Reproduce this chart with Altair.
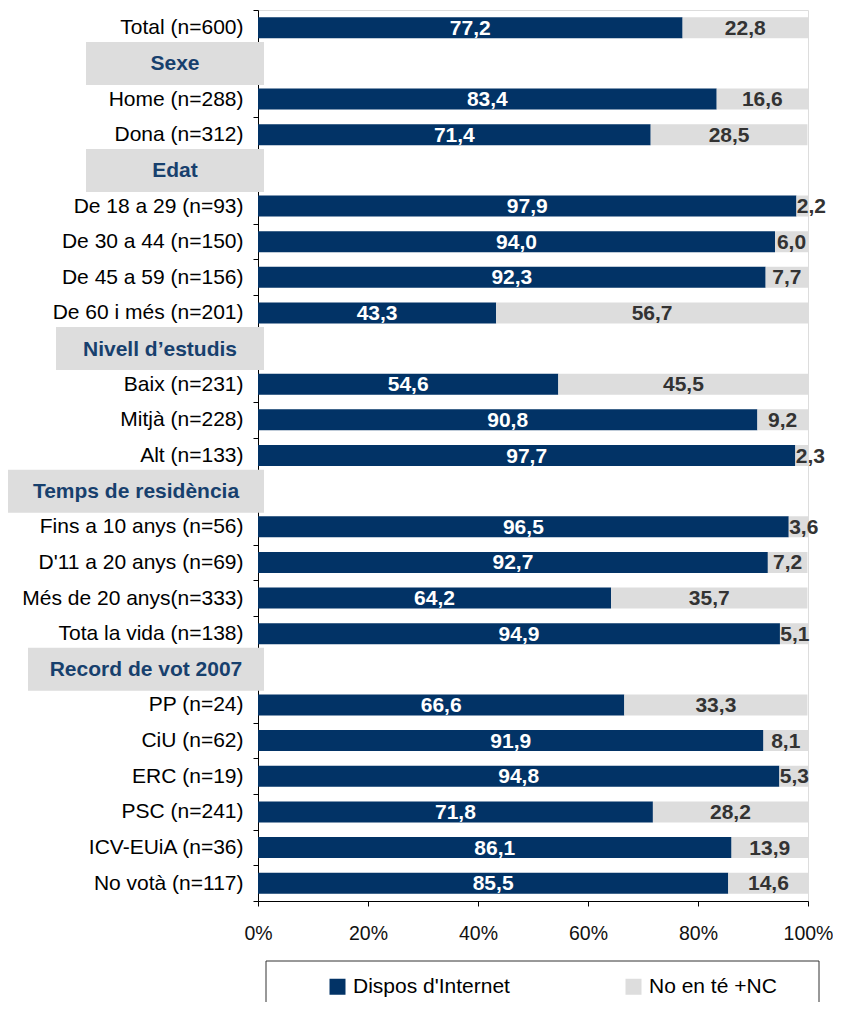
import altair as alt
import pandas as pd

# ---------------- data ----------------
categories = [
    "Total (n=600)",
    "Home (n=288)", "Dona  (n=312)",
    "De 18 a 29 (n=93)", "De 30 a 44 (n=150)", "De 45 a 59 (n=156)", "De 60 i més (n=201)",
    "Baix (n=231)", "Mitjà (n=228)", "Alt (n=133)",
    "Fins a 10 anys (n=56)", "D'11 a 20 anys (n=69)", "Més de 20 anys(n=333)", "Tota la vida (n=138)",
    "PP  (n=24)", "CiU (n=62)", "ERC  (n=19)", "PSC (n=241)", "ICV-EUiA (n=36)", "No votà (n=117)",
]
category_group = (
    [""]
    + ["Sexe"] * 2
    + ["Edat"] * 4
    + ["Nivell d’estudis"] * 3
    + ["Temps de residència"] * 4
    + ["Record de vot 2007"] * 6
)
headers = ["Sexe", "Edat", "Nivell d’estudis", "Temps de residència", "Record de vot 2007"]
dispos = [77.2, 83.4, 71.4, 97.9, 94.0, 92.3, 43.3, 54.6, 90.8, 97.7,
          96.5, 92.7, 64.2, 94.9, 66.6, 91.9, 94.8, 71.8, 86.1, 85.5]
no_te = [22.8, 16.6, 28.5, 2.2, 6.0, 7.7, 56.7, 45.5, 9.2, 2.3,
         3.6, 7.2, 35.7, 5.1, 33.3, 8.1, 5.3, 28.2, 13.9, 14.6]
series = ["Dispos d'Internet", "No en té +NC"]
x_ticks = [0, 20, 40, 60, 80, 100]

# ---------------- style ----------------
W, H = 550, 891
PAD = {"left": 250, "top": 2, "right": 25, "bottom": 101}   # svg 825 x 994
NAVY = "#023366"
GREY = "#DDDDDD"
HEAD_TXT = "#17406D"
FONT = "Liberation Sans"
FS = 21
header_box_left_px = [-172, -172, -202, -250, -230]
header_box_right_px = 6
px_per_unit = W / 100.0

# row order with header rows inserted
rows = []
prev = ""
for c, g in zip(categories, category_group):
    if g and g != prev:
        rows.append(g)
    rows.append(c)
    prev = g

# segments
recs = []
for c, a, b in zip(categories, dispos, no_te):
    for i, (s, v, st) in enumerate([(series[0], a, 0.0), (series[1], b, a)]):
        mid = st + v / 2
        lx = max(mid, st + 15 / px_per_unit)
        recs.append({"row": c, "series": s, "start": st, "end": st + v,
                     "lx": lx, "label": f"{v:.1f}".replace(".", ","), "idx": i})
seg = pd.DataFrame(recs)

hdr = pd.DataFrame({
    "row": headers,
    "bx": [l / px_per_unit for l in header_box_left_px],
    "bx2": [header_box_right_px / px_per_unit] * len(headers),
})
hdr["tx"] = (hdr["bx"] + hdr["bx2"]) / 2

y_enc = alt.Y(
    "row:N", sort=rows, title=None,
    scale=alt.Scale(domain=rows, paddingInner=0, paddingOuter=0),
    axis=alt.Axis(
        labelExpr="indexof(" + str(headers) + ", datum.value) >= 0 ? '' : datum.value",
        tickBand="extent", tickSize=5, labelPadding=10, labelFontSize=FS,
        labelFont=FONT, labelColor="#000000", domainColor="#000000",
        tickColor="#000000", grid=False, labelLimit=400,
    ),
)
x_scale = alt.Scale(domain=[0, 100], nice=False, zero=False)

bars = alt.Chart(seg).mark_bar(height=21).encode(
    x=alt.X("start:Q", scale=x_scale, title=None,
            axis=alt.Axis(values=x_ticks, labelExpr="datum.value + '%'", tickSize=5,
                          labelPadding=18, labelFontSize=19.5, labelFont=FONT,
                          labelColor="#111111", domainColor="#000000",
                          tickColor="#000000", grid=False, labelFlush=False)),
    x2="end:Q",
    y=y_enc,
    color=alt.Color("series:N", scale=alt.Scale(domain=series, range=[NAVY, GREY]),
                    legend=alt.Legend(orient="none", legendX=69, legendY=966,
                                      direction="horizontal", title=None,
                                      symbolType="square", symbolSize=256,
                                      symbolStrokeWidth=0, labelFontSize=FS,
                                      labelFont=FONT, labelColor="#000000",
                                      labelOffset=5, columnPadding=113,
                                      padding=0)),
    order=alt.Order("idx:Q"),
)

txt_in = alt.Chart(seg).transform_filter(alt.datum.idx == 0).mark_text(
    fontWeight="bold", fontSize=FS, font=FONT, color="#FFFFFF", baseline="middle", dy=1
).encode(x=alt.X("lx:Q", scale=x_scale, title=None), y=alt.Y("row:N", sort=rows, title=None), text="label:N")

txt_out = alt.Chart(seg).transform_filter(alt.datum.idx == 1).mark_text(
    fontWeight="bold", fontSize=FS, font=FONT, color="#333333", baseline="middle", dy=1
).encode(x=alt.X("lx:Q", scale=x_scale, title=None), y=alt.Y("row:N", sort=rows, title=None), text="label:N")

hbox = alt.Chart(hdr).mark_bar(height=43, color=GREY).encode(
    x=alt.X("bx:Q", scale=x_scale, title=None), x2="bx2:Q", y=alt.Y("row:N", sort=rows, title=None)
)
htxt = alt.Chart(hdr).mark_text(
    fontWeight="bold", fontSize=FS, font=FONT, color=HEAD_TXT, baseline="middle", dy=1
).encode(x=alt.X("tx:Q", scale=x_scale, title=None), y=alt.Y("row:N", sort=rows, title=None), text="row:N")

# legend frame (its bottom lies beyond the cropped original)
one = pd.DataFrame({"k": [0]})
BOX_L, BOX_R, BOX_T, BOX_B = 8, 561, 951, 1010
frame = alt.Chart(one).mark_rect(fill="#FFFFFF", fillOpacity=0, stroke="#333333", strokeWidth=1).encode(
    x=alt.value(BOX_L), x2=alt.value(BOX_R), y=alt.value(BOX_T), y2=alt.value(BOX_B))

chart = alt.layer(frame, bars, hbox, htxt, txt_in, txt_out).properties(
    width=W, height=H, padding=PAD, autosize=alt.AutoSizeParams(type="none")
).configure_view(stroke=None).configure(font=FONT)

chart.save("out.html", embed_options={"renderer": "svg", "actions": False})
